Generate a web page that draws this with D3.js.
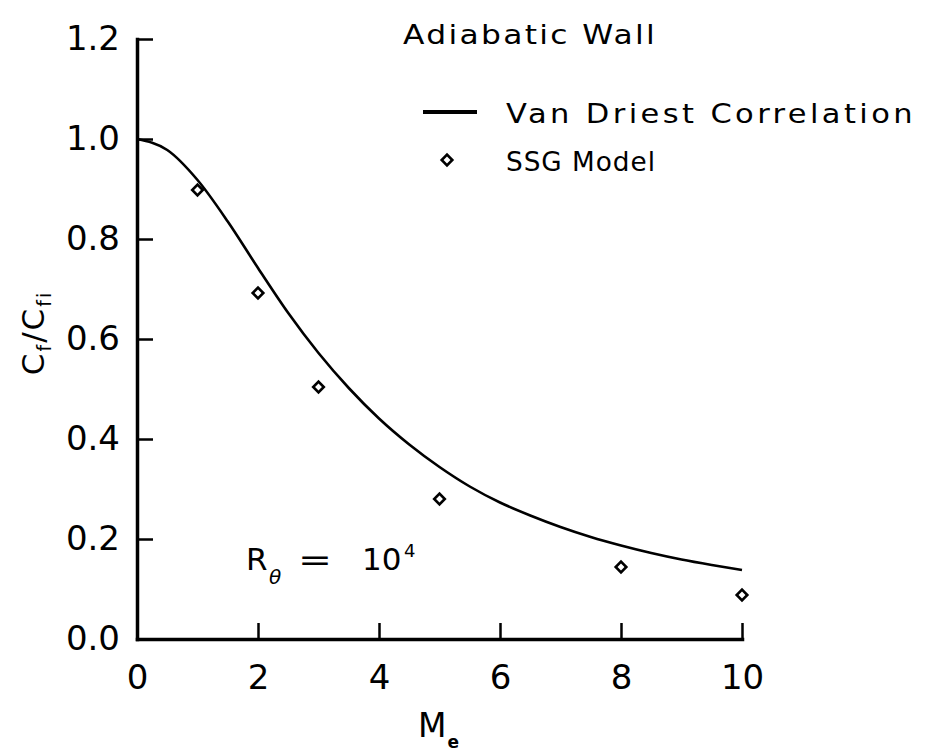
<!DOCTYPE html>
<html>
<head>
<meta charset="utf-8">
<script src="https://cdn.jsdelivr.net/npm/d3@7"></script>
<style>
  html, body { margin: 0; padding: 0; background: #fff; }
  svg { display: block; }
  text { font-family: "DejaVu Sans", sans-serif; fill: #000; }
</style>
</head>
<body>
<svg id="chart" width="935" height="752"></svg>
<script>
// Van Driest correlation, skin friction ratio vs edge Mach number
const machCurve    = [0, 0.5, 1.0, 1.5, 2.0, 2.5, 3.0, 3.5, 4.0, 4.5, 5.0, 5.5, 6.0, 6.5, 7.0, 7.5, 8.0, 8.5, 9.0, 9.5, 10.0];
const cfRatioCurve = [1.000, 0.978, 0.918, 0.835, 0.742, 0.652, 0.572, 0.502, 0.441, 0.389, 0.344, 0.305, 0.273, 0.247, 0.224, 0.204, 0.187, 0.172, 0.159, 0.148, 0.138];

// SSG model results
const machSSG    = [1, 2, 3, 5, 8, 10];
const cfRatioSSG = [0.898, 0.692, 0.504, 0.280, 0.144, 0.088];

// Axis ticks
const xTicks = [0, 2, 4, 6, 8, 10];
const yTicks = [0.0, 0.2, 0.4, 0.6, 0.8, 1.0, 1.2];

const svg = d3.select("#chart");
const plotLeft = 137, plotRight = 742, plotTop = 39, plotBottom = 639;

const x = d3.scaleLinear().domain([0, 10]).range([plotLeft, plotRight]);
const y = d3.scaleLinear().domain([0, 1.2]).range([plotBottom, plotTop]);

// X axis with inward ticks
const xAxis = svg.append("g")
  .attr("transform", `translate(0,${plotBottom})`)
  .call(d3.axisBottom(x).tickValues(xTicks).tickFormat(d3.format("d"))
    .tickSizeInner(-16).tickSizeOuter(0).tickPadding(26));
// Y axis with inward ticks
const yAxis = svg.append("g")
  .attr("transform", `translate(${plotLeft},0)`)
  .call(d3.axisLeft(y).tickValues(yTicks).tickFormat(d3.format(".1f"))
    .tickSizeInner(-16).tickSizeOuter(0).tickPadding(17));

[xAxis, yAxis].forEach(g => {
  g.select(".domain").attr("stroke", "#000").attr("stroke-width", 3.5).attr("stroke-linecap", "square");
  g.selectAll(".tick line").attr("stroke", "#000").attr("stroke-width", 2.5);
  g.selectAll(".tick text").attr("font-size", 34).attr("font-family", "DejaVu Sans").attr("fill", "#000");
});

// Correlation curve
const line = d3.line()
  .x((d, i) => x(machCurve[i]))
  .y(d => y(d))
  .curve(d3.curveMonotoneX);
svg.append("path")
  .datum(cfRatioCurve)
  .attr("d", line)
  .attr("fill", "none")
  .attr("stroke", "#000")
  .attr("stroke-width", 2.6);

// Diamond markers
const diamond = d3.symbol().type(d3.symbolSquare).size(56);
svg.append("g").selectAll("path")
  .data(machSSG)
  .join("path")
  .attr("d", diamond)
  .attr("transform", (d, i) => `translate(${x(d)},${y(cfRatioSSG[i])}) rotate(45)`)
  .attr("fill", "#fff")
  .attr("stroke", "#000")
  .attr("stroke-width", 2.6);

// Title and legend
svg.append("text").attr("x", 403).attr("y", 44).attr("font-size", 27)
  .attr("letter-spacing", 2)
  .attr("textLength", 254).attr("lengthAdjust", "spacingAndGlyphs")
  .text("Adiabatic Wall");

svg.append("line").attr("x1", 423).attr("x2", 477).attr("y1", 112).attr("y2", 112)
  .attr("stroke", "#000").attr("stroke-width", 4);
svg.append("text").attr("x", 506).attr("y", 123).attr("font-size", 27)
  .attr("letter-spacing", 3)
  .attr("textLength", 410).attr("lengthAdjust", "spacingAndGlyphs")
  .text("Van Driest Correlation");

svg.append("path").attr("d", diamond)
  .attr("transform", "translate(447,160) rotate(45)")
  .attr("fill", "#fff").attr("stroke", "#000").attr("stroke-width", 2.6);
svg.append("text").attr("x", 506).attr("y", 171).attr("font-size", 27)
  .attr("letter-spacing", 1)
  .attr("textLength", 150).attr("lengthAdjust", "spacingAndGlyphs")
  .text("SSG Model");

// Reynolds number annotation
const ann = svg.append("g");
ann.append("text").attr("x", 246).attr("y", 570).attr("font-size", 31).text("R");
ann.append("text").attr("x", 269).attr("y", 584).attr("font-size", 20)
  .attr("font-style", "italic").text("θ");
ann.append("text").attr("x", 298).attr("y", 570).attr("font-size", 31)
  .attr("textLength", 34).attr("lengthAdjust", "spacingAndGlyphs").text("=");
ann.append("text").attr("x", 362).attr("y", 570).attr("font-size", 31).text("10");
ann.append("text").attr("x", 404).attr("y", 557).attr("font-size", 18).text("4");

// Axis titles
const xt = svg.append("text").attr("x", 418).attr("y", 737).attr("font-size", 33);
xt.append("tspan").text("M");
xt.append("tspan").attr("font-size", 17).attr("font-weight", "bold").attr("dx", 1).attr("dy", 11).text("e");

const yt = svg.append("text")
  .attr("transform", "translate(44,333) rotate(-90)")
  .attr("text-anchor", "middle")
  .attr("font-size", 31)
  .attr("letter-spacing", 2);
yt.append("tspan").text("C");
yt.append("tspan").attr("font-size", 19).attr("dy", 7).text("f");
yt.append("tspan").attr("dy", -7).text("/C");
yt.append("tspan").attr("font-size", 19).attr("dy", 7).text("fi");
</script>
</body>
</html>
